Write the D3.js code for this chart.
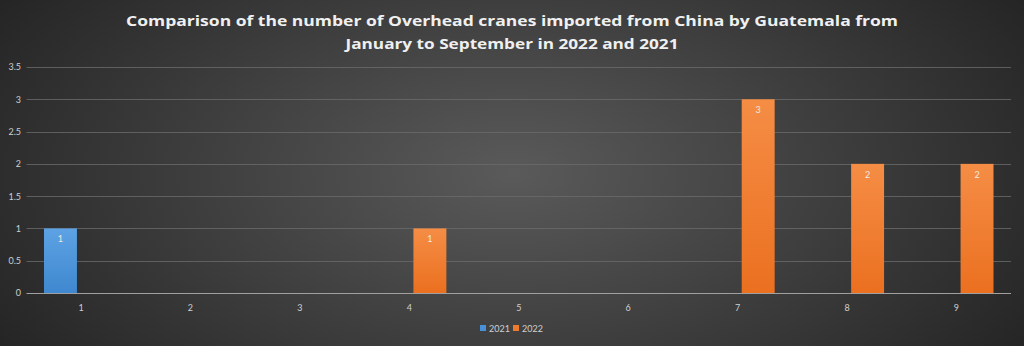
<!DOCTYPE html>
<html><head><meta charset="utf-8">
<script src="https://cdn.jsdelivr.net/npm/d3@7"></script>
<style>html,body{margin:0;padding:0;background:#333;}svg{display:block;}</style>
</head><body>
<svg id="c" width="1024" height="346"></svg>
<script>
const categories = ["1","2","3","4","5","6","7","8","9"];
const seriesNames = ["2021","2022"];
const values2021 = [1,0,0,0,0,0,0,0,0];
const values2022 = [0,0,0,1,0,0,3,2,2];
const yTicks = [0,0.5,1,1.5,2,2.5,3,3.5];
const titleLines = ["Comparison of the number of Overhead cranes imported from China by Guatemala from","January to September in 2022 and 2021"];

(function(){
const W=1024,H=346;
const svg=d3.select("#c");
const defs=svg.append("defs");
const bg=defs.append("radialGradient").attr("id","bg").attr("cx","50%").attr("cy","50%").attr("r","60%").attr("gradientTransform","translate(0.5,0.5) scale(1,1.6) translate(-0.5,-0.5)");
bg.append("stop").attr("offset","0%").attr("stop-color","#5a5a5a");
bg.append("stop").attr("offset","100%").attr("stop-color","#242424");
const gb=defs.append("linearGradient").attr("id","gBlue").attr("x1",0).attr("y1",0).attr("x2",0).attr("y2",1);
gb.append("stop").attr("offset","0%").attr("stop-color","#5da2e4");
gb.append("stop").attr("offset","100%").attr("stop-color","#3f88cf");
const go=defs.append("linearGradient").attr("id","gOrange").attr("x1",0).attr("y1",0).attr("x2",0).attr("y2",1);
go.append("stop").attr("offset","0%").attr("stop-color","#f58d45");
go.append("stop").attr("offset","100%").attr("stop-color","#eb7020");
svg.append("rect").attr("width",W).attr("height",H).attr("fill","url(#bg)");

const pLeft=26.5,pRight=1011,pTop=67,pBottom=293;
const x0=d3.scaleBand().domain(categories).range([pLeft,pRight]).paddingInner(0.323).paddingOuter(0.16);
const x1=d3.scaleBand().domain(seriesNames).range([0,x0.bandwidth()]).paddingInner(0.2);
const y=d3.scaleLinear().domain([0,3.5]).range([pBottom,pTop]);

svg.append("g").selectAll("line").data(yTicks.filter(d=>d>0)).join("line")
 .attr("x1",pLeft).attr("x2",pRight).attr("y1",d=>Math.round(y(d))+0.5).attr("y2",d=>Math.round(y(d))+0.5)
 .attr("stroke","#6a6a6a").attr("stroke-width",1).attr("stroke-opacity",0.8);

const yAxis=d3.axisLeft(y).tickValues(yTicks).tickSize(0).tickPadding(0).tickFormat(d=>String(d));
const ya=svg.append("g").attr("transform",`translate(21,0)`).call(yAxis);
ya.select(".domain").remove();
ya.selectAll("text").attr("fill","#d0d0d0").style("font-family","Lato, 'Open Sans', sans-serif").style("font-size","9px");

const colors={"2021":"url(#gBlue)","2022":"url(#gOrange)"};
const data=categories.map((c,i)=>({c, vals:[{s:"2021",v:values2021[i]},{s:"2022",v:values2022[i]}]}));
const grp=svg.append("g").selectAll("g").data(data).join("g").attr("transform",d=>`translate(${x0(d.c)},0)`);
grp.selectAll("rect").data(d=>d.vals.filter(e=>e.v>0)).join("rect")
 .attr("x",d=>x1(d.s)).attr("width",x1.bandwidth())
 .attr("y",d=>y(d.v)).attr("height",d=>y(0)-y(d.v)).attr("fill",d=>colors[d.s]);
grp.selectAll("text").data(d=>d.vals.filter(e=>e.v>0)).join("text")
 .attr("x",d=>x1(d.s)+x1.bandwidth()/2).attr("y",d=>y(d.v)+14)
 .attr("text-anchor","middle").attr("fill","#f2e8e0").style("font-family","Lato, sans-serif").style("font-size","9px")
 .text(d=>d.v);

svg.append("line").attr("x1",pLeft).attr("x2",pRight).attr("y1",pBottom+0.5).attr("y2",pBottom+0.5).attr("stroke","#a0a0a0").attr("stroke-width",1);

const xa=svg.append("g").attr("transform",`translate(0,${pBottom})`).call(d3.axisBottom(x0).tickSize(0).tickPadding(12));
xa.select(".domain").remove();
xa.selectAll("text").attr("fill","#d0d0d0").style("font-family","Lato, sans-serif").style("font-size","9px");

svg.append("g").selectAll("text").data(titleLines).join("text")
 .attr("x",512).attr("y",(d,i)=>26+i*23).attr("text-anchor","middle")
 .attr("fill","#f0f0f0").style("font-family","'Open Sans', sans-serif").style("font-weight","bold").style("font-size","14.5px")
 .attr("textLength",(d,i)=>i===0?772:333).attr("lengthAdjust","spacingAndGlyphs")
 .text(d=>d);

const lg=svg.append("g").attr("transform","translate(480,329)");
const items=[{s:"2021",c:"#4a90d9",x:0},{s:"2022",c:"#ee7b2c",x:33}];
const li=lg.selectAll("g").data(items).join("g").attr("transform",d=>`translate(${d.x},0)`);
li.append("rect").attr("x",0).attr("y",-4).attr("width",6).attr("height",6).attr("fill",d=>d.c);
li.append("text").attr("x",9).attr("y",3).attr("fill","#d0d0d0").style("font-family","Lato, sans-serif").style("font-size","9px").text(d=>d.s);
})();
</script>
</body></html>
